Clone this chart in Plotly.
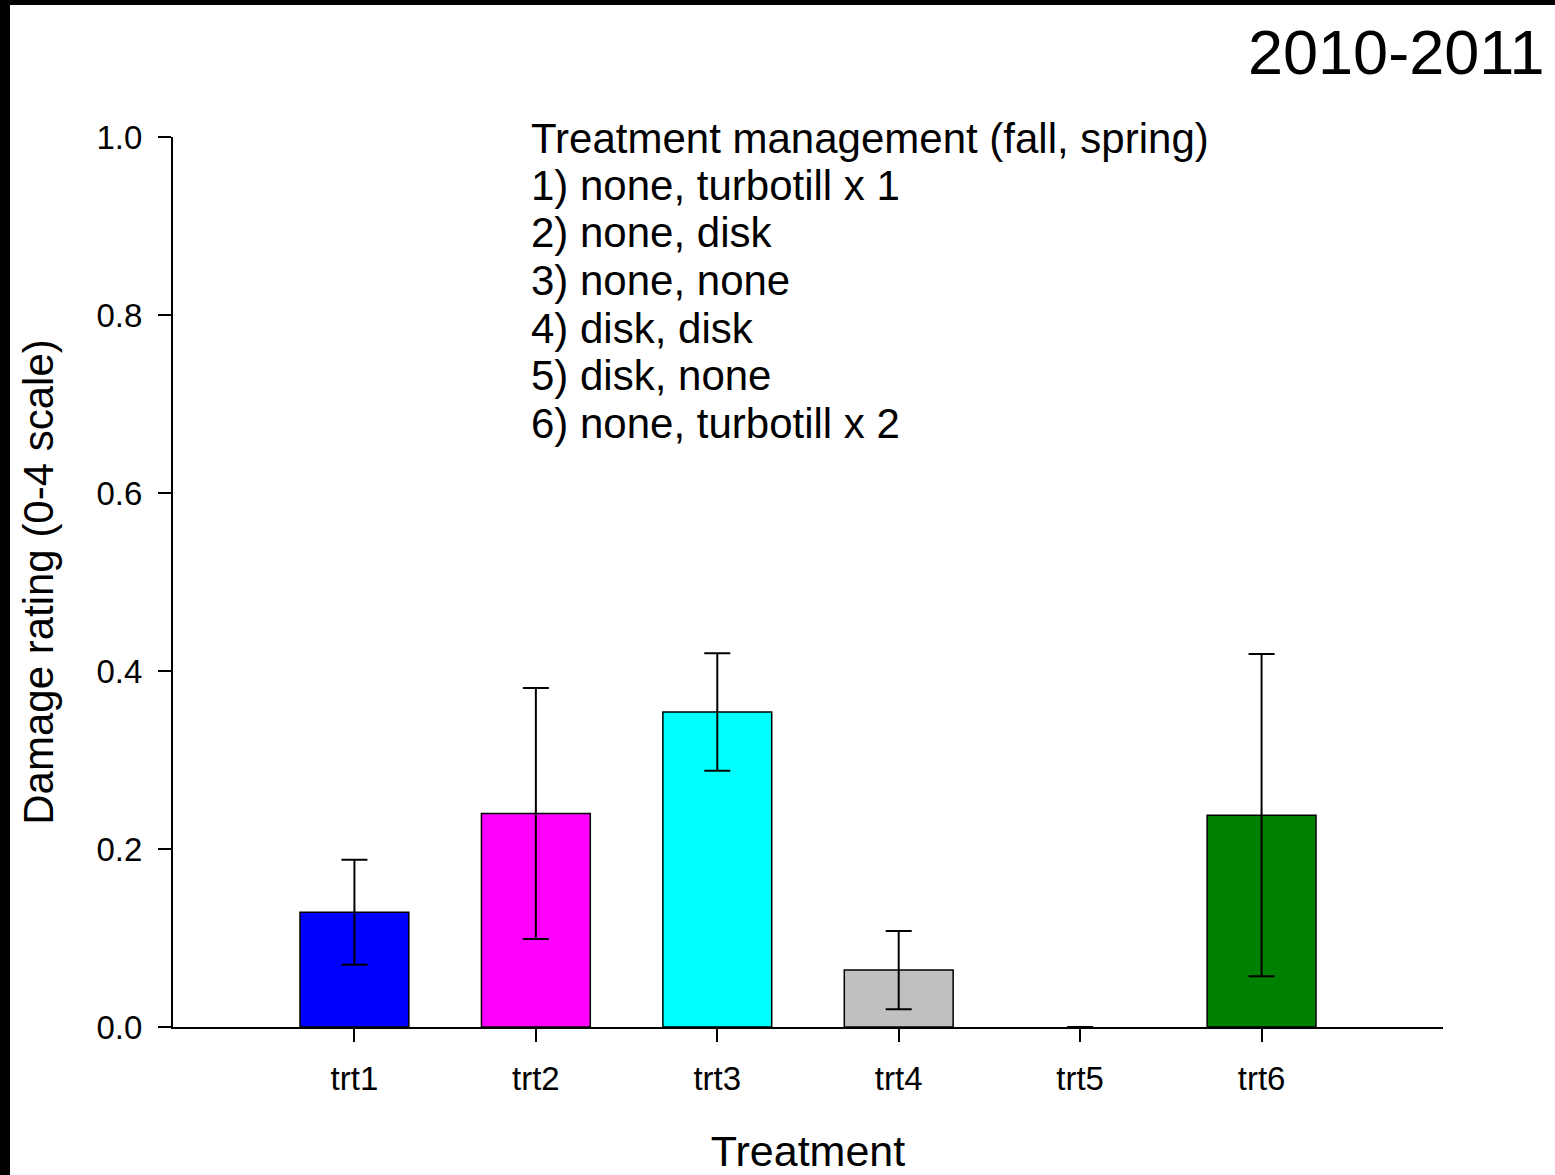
import plotly.graph_objects as go

# Mean damage rating per treatment, with error-bar half widths
treatments = ["trt1", "trt2", "trt3", "trt4", "trt5", "trt6"]
damage = [0.129, 0.240, 0.354, 0.064, 0.0, 0.238]
damage_err = [0.059, 0.141, 0.066, 0.044, 0.0, 0.181]
bar_colors = ["#0000FF", "#FF00FF", "#00FFFF", "#C0C0C0", "#FFFFFF", "#008000"]

y_ticks = [0.0, 0.2, 0.4, 0.6, 0.8, 1.0]
y_tick_text = ["0.0", "0.2", "0.4", "0.6", "0.8", "1.0"]

legend_lines = [
    "Treatment management (fall, spring)",
    "1) none, turbotill x 1",
    "2) none, disk",
    "3) none, none",
    "4) disk, disk",
    "5) disk, none",
    "6) none, turbotill x 2",
]
season = "2010-2011"

W, H = 1555, 1175
ML, MR, MT, MB = 173, 112, 137, 148
PW, PH = W - ML - MR, H - MT - MB
FONT = "Liberation Sans, Arial, sans-serif"


def px_x(p):
    return (p - ML) / PW


def px_y(p):
    return (H - MB - p) / PH


# no outline on empty (zero-height) bars
outline_widths = [0 if v == 0 else 1.5 for v in damage]

fig = go.Figure(
    go.Bar(
        x=treatments,
        y=damage,
        width=0.6,
        marker=dict(color=bar_colors, line=dict(color="black", width=outline_widths)),
        error_y=dict(type="data", array=damage_err, symmetric=True,
                     color="black", thickness=2, width=13),
    )
)

annotations = [
    dict(text=season, x=px_x(1547), y=px_y(52), xref="paper", yref="paper",
         xanchor="right", yanchor="middle", showarrow=False,
         font=dict(size=63, color="black", family=FONT)),
]
for i, line in enumerate(legend_lines):
    annotations.append(dict(
        text=line, x=px_x(529), y=px_y(138 + 47.5 * i), xref="paper", yref="paper",
        xanchor="left", yanchor="middle", showarrow=False,
        font=dict(size=42, color="black", family=FONT)))

shapes = [
    # dark frame along the top and left edges
    dict(type="rect", xref="paper", yref="paper", x0=px_x(0), x1=px_x(10),
         y0=px_y(H), y1=px_y(0), fillcolor="black", line=dict(width=0)),
    dict(type="rect", xref="paper", yref="paper", x0=px_x(0), x1=px_x(W),
         y0=px_y(5), y1=px_y(0), fillcolor="black", line=dict(width=0)),
]

fig.update_layout(
    width=W, height=H,
    margin=dict(l=ML, r=MR, t=MT, b=MB, pad=0),
    paper_bgcolor="white", plot_bgcolor="white",
    showlegend=False,
    font=dict(family=FONT, color="black"),
    annotations=annotations,
    shapes=shapes,
    xaxis=dict(
        type="category", range=[-1, 6], automargin=False,
        showline=True, linecolor="black", linewidth=2,
        ticks="outside", ticklen=13, tickwidth=2, tickcolor="black",
        showgrid=False, zeroline=False,
        tickfont=dict(size=33, family=FONT), ticklabelstandoff=8,
        title=dict(text="Treatment", font=dict(size=43, family=FONT), standoff=42),
    ),
    yaxis=dict(
        range=[0, 1.0], tickvals=y_ticks, ticktext=y_tick_text, automargin=False,
        showline=True, linecolor="black", linewidth=2,
        ticks="outside", ticklen=13, tickwidth=2, tickcolor="black",
        showgrid=False, zeroline=False,
        tickfont=dict(size=33, family=FONT), ticklabelstandoff=9,
        title=dict(text="Damage rating (0-4 scale)", font=dict(size=42, family=FONT),
                   standoff=30),
    ),
)

fig.write_html("out.html")
